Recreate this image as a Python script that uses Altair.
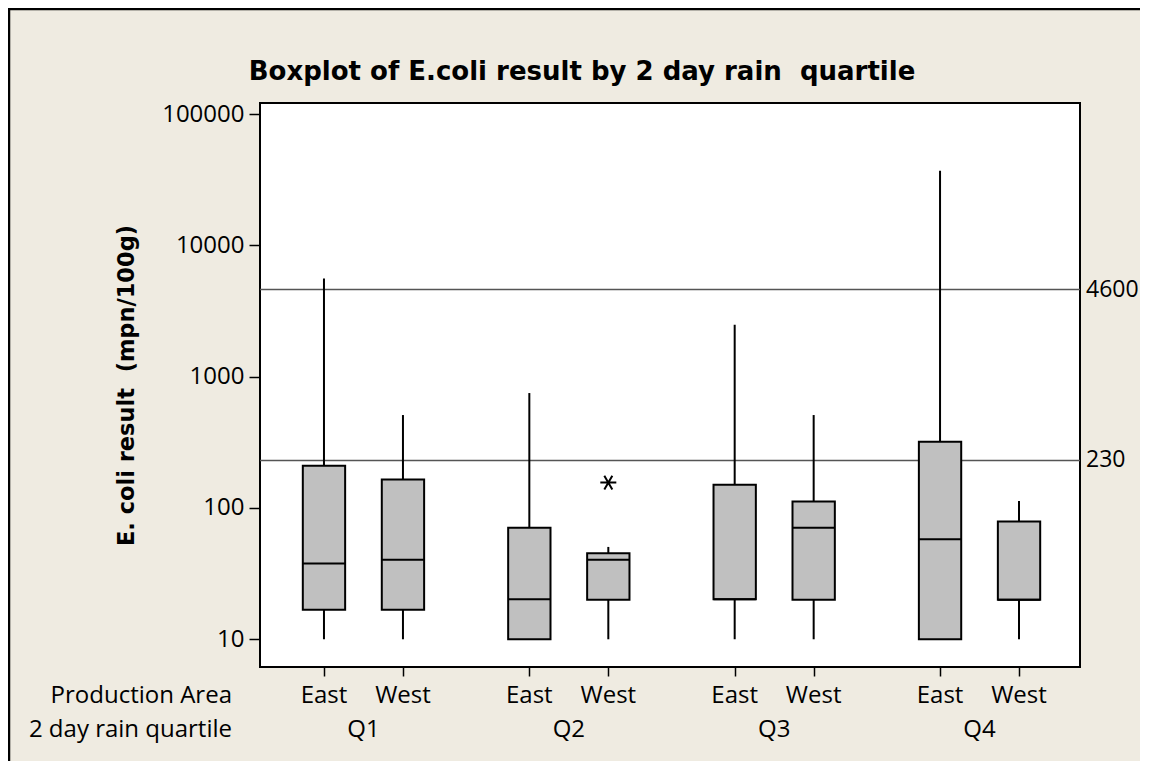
import altair as alt
import pandas as pd

# ---- data ----
quartiles = ["Q1", "Q1", "Q2", "Q2", "Q3", "Q3", "Q4", "Q4"]
areas = ["East", "West", "East", "West", "East", "West", "East", "West"]
whisker_low = [10, 10, 10, 10, 10, 10, 10, 10]
box_low = [16.8, 16.8, 10, 20, 20.2, 20, 10, 20]
medians = [37.7, 40.4, 20.2, 40.4, 20.2, 70.8, 57.8, 20]
box_high = [210, 165, 70.8, 45.2, 150, 112, 320, 78.7]
whisker_high = [5600, 510, 750, 50.5, 2480, 510, 36900, 113]

outlier_quartiles = ["Q2"]
outlier_areas = ["West"]
outlier_values = [156]

limit_values = [230, 4600]
limit_labels = ["230", "4600"]

quartile_order = ["Q1", "Q2", "Q3", "Q4"]
area_order = ["East", "West"]
row_titles = ["Production Area", "2 day rain quartile"]
y_ticks = [10, 100, 1000, 10000, 100000]

TITLE = "Boxplot of E.coli result by 2 day rain\u00a0 quartile"
Y_TITLE = "E. coli result\u00a0 (mpn/100g)"

# ---- layout helpers ----
GROUP_STEP = 2.6
HALF_BOX = 0.268
W, H = 820, 564
FONT = "Open Sans"
BOLD_FONT = "DejaVu Sans"
BG = "#EFEBE1"
PAD_RIGHT = 60


def position(q, a):
    return quartile_order.index(q) * GROUP_STEP + area_order.index(a)


boxes = pd.DataFrame({
    "quartile": quartiles, "area": areas,
    "wlo": whisker_low, "q1": box_low, "med": medians,
    "q3": box_high, "whi": whisker_high,
})
boxes["pos"] = [position(q, a) for q, a in zip(quartiles, areas)]
boxes["left"] = boxes["pos"] - HALF_BOX
boxes["right"] = boxes["pos"] + HALF_BOX

outliers = pd.DataFrame({"quartile": outlier_quartiles, "area": outlier_areas,
                         "value": outlier_values})
outliers["pos"] = [position(q, a) for q, a in zip(outlier_quartiles, outlier_areas)]

limits = pd.DataFrame({"value": limit_values, "label": limit_labels})

groups = pd.DataFrame({"quartile": quartile_order})
groups["center"] = [position(q, "East") + 0.5 for q in quartile_order]

xscale = alt.Scale(domain=[-0.81, 9.572], nice=False, zero=False)
yscale = alt.Scale(type="log", domain=[6.15, 121300], nice=False)

xaxis = alt.Axis(values=boxes["pos"].tolist(), labels=False, title=None,
                 domain=False, grid=False, tickSize=9, tickWidth=1.5,
                 tickColor="black")
yaxis = alt.Axis(values=y_ticks, format="d", title=Y_TITLE, grid=False,
                 domain=False, tickSize=11, tickWidth=1.5, tickColor="black",
                 labelFont=FONT, labelFontSize=24, labelColor="black",
                 labelPadding=5, titleFont=BOLD_FONT, titleFontSize=22.5,
                 titleFontWeight="bold", titleColor="black",
                 titlePadding=23)

base = alt.Chart(boxes)

limit_lines = alt.Chart(limits).mark_rule(color="#555555", strokeWidth=1.5).encode(
    y=alt.Y("value:Q", scale=yscale, axis=yaxis)
)

whiskers = base.mark_rule(color="black", strokeWidth=2).encode(
    x=alt.X("pos:Q", scale=xscale, axis=xaxis),
    y=alt.Y("wlo:Q", scale=yscale, axis=yaxis),
    y2="whi:Q",
)

box_rects = base.mark_rect(fill="#C0C0C0", stroke="black", strokeWidth=2).encode(
    x=alt.X("left:Q", scale=xscale, axis=xaxis),
    x2="right:Q",
    y=alt.Y("q1:Q", scale=yscale, axis=yaxis),
    y2="q3:Q",
)

median_lines = base.mark_rule(color="black", strokeWidth=2).encode(
    x=alt.X("left:Q", scale=xscale, axis=xaxis),
    x2="right:Q",
    y=alt.Y("med:Q", scale=yscale, axis=yaxis),
)

asterisk = "M-1,0L1,0M-0.5,-0.87L0.5,0.87M-0.5,0.87L0.5,-0.87"
outlier_marks = alt.Chart(outliers).mark_point(
    shape=asterisk, size=256, filled=False, stroke="black", strokeWidth=2, opacity=1
).encode(
    x=alt.X("pos:Q", scale=xscale, axis=xaxis),
    y=alt.Y("value:Q", scale=yscale, axis=yaxis),
)

limit_text = alt.Chart(limits).mark_text(
    align="left", baseline="middle", font=FONT, fontSize=23, color="black"
).encode(
    x=alt.value(W + 6),
    y=alt.Y("value:Q", scale=yscale, axis=yaxis),
    text="label:N",
)

area_text = base.mark_text(
    align="center", baseline="alphabetic", font=FONT, fontSize=24, color="black"
).encode(
    x=alt.X("pos:Q", scale=xscale, axis=xaxis),
    y=alt.value(600),
    text="area:N",
)

quartile_text = alt.Chart(groups).mark_text(
    align="center", baseline="alphabetic", font=FONT, fontSize=24, color="black"
).encode(
    x=alt.X("center:Q", scale=xscale, axis=xaxis),
    y=alt.value(634),
    text="quartile:N",
)

row1 = alt.Chart(pd.DataFrame({"t": [row_titles[0]]})).mark_text(
    align="right", baseline="alphabetic", font=FONT, fontSize=24, color="black"
).encode(x=alt.value(-28), y=alt.value(600), text="t:N")

row2 = alt.Chart(pd.DataFrame({"t": [row_titles[1]]})).mark_text(
    align="right", baseline="alphabetic", font=FONT, fontSize=24, color="black"
).encode(x=alt.value(-28), y=alt.value(634), text="t:N")

title_text = alt.Chart(pd.DataFrame({"t": [TITLE]})).mark_text(
    align="center", baseline="alphabetic", font=BOLD_FONT, fontSize=26,
    fontWeight="bold", color="black"
).encode(x=alt.value(322), y=alt.value(-23), text="t:N")

frame_df = pd.DataFrame({"k": [0]})
frame_top = alt.Chart(frame_df).mark_rule(color="black", strokeWidth=2.5).encode(
    x=alt.value(-252), x2=alt.value(W + PAD_RIGHT), y=alt.value(-94)
)
frame_left = alt.Chart(frame_df).mark_rule(color="black", strokeWidth=2.5).encode(
    x=alt.value(-251), y=alt.value(-95), y2=alt.value(H + 94)
)

chart = alt.layer(
    limit_lines, whiskers, box_rects, median_lines, outlier_marks,
    limit_text, area_text, quartile_text, row1, row2, title_text,
    frame_top, frame_left,
).properties(
    width=W, height=H,
    autosize=alt.AutoSizeParams(type="none"),
    padding={"left": 252, "top": 95, "right": PAD_RIGHT, "bottom": 94},
    background=BG,
).configure_view(
    fill="white", stroke="black", strokeWidth=2
)

chart.save("out.html", embed_options={"renderer": "svg", "actions": False})
